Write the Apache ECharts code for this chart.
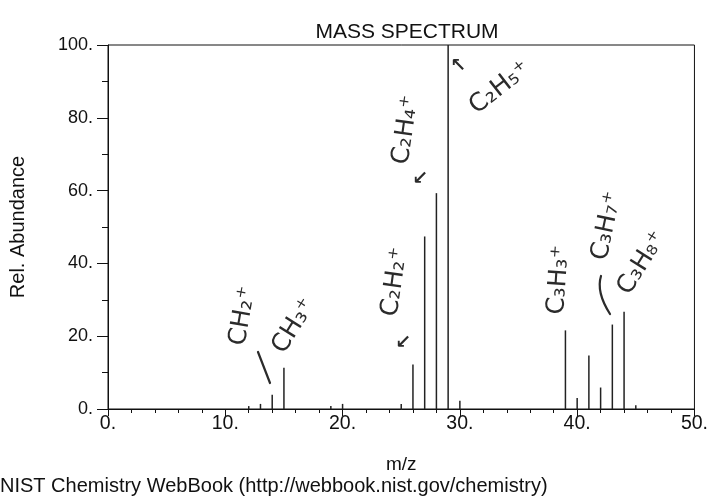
<!DOCTYPE html>
<html>
<head>
<meta charset="utf-8">
<title>Mass spectrum</title>
<script src="https://cdn.jsdelivr.net/npm/echarts@6/dist/echarts.min.js"></script>
<style>
  html, body { margin: 0; padding: 0; background: #fff; }
  #chart { width: 711px; height: 502px; }
</style>
</head>
<body>
<div id="chart"></div>
<script>
// m/z values and relative abundance
var mz = [12, 13, 14, 15, 19, 20, 25, 26, 27, 28, 29, 30, 39, 40, 41, 42, 43, 44, 45];
var abundance = [0.8, 1.4, 3.9, 11.3, 0.8, 1.4, 1.4, 12.2, 47.4, 59.3, 100, 2.3, 21.6, 3.0, 14.7, 5.9, 23.2, 26.7, 1.0];
var xTicks = [0, 10, 20, 30, 40, 50];
var yTicks = [0, 20, 40, 60, 80, 100];

// handwritten notes on the scan
var notes = [
  { text: 'CH₂⁺', x: 243, y: 316, rot: 80 },
  { text: 'CH₃⁺', x: 294, y: 326, rot: 58 },
  { text: 'C₂H₂⁺', x: 395, y: 282, rot: 82 },
  { text: 'C₂H₄⁺', x: 406, y: 130, rot: 82 },
  { text: 'C₂H₅⁺', x: 500, y: 88, rot: 38 },
  { text: 'C₃H₃⁺', x: 559, y: 280, rot: 86 },
  { text: 'C₃H₇⁺', x: 607, y: 226, rot: 78 },
  { text: 'C₃H₈⁺', x: 642, y: 263, rot: 58 }
];
var arrows = [
  { text: '↙', x: 403, y: 343 },
  { text: '↙', x: 420, y: 179 },
  { text: '↖', x: 458, y: 66 }
];

var chart = echarts.init(document.getElementById('chart'), null, { renderer: 'canvas' });

var font = 'Liberation Sans, Arial, sans-serif';
var ink = '#2b2b2b';
var graphics = [];
notes.forEach(function (n) {
  graphics.push({
    type: 'text', x: n.x, y: n.y, rotation: n.rot * Math.PI / 180,
    style: { text: n.text, fill: ink, font: '25px DejaVu Sans', align: 'center', verticalAlign: 'middle' }
  });
});
arrows.forEach(function (a) {
  graphics.push({
    type: 'text', x: a.x, y: a.y,
    style: { text: a.text, fill: ink, font: 'bold 19px DejaVu Sans', align: 'center', verticalAlign: 'middle' }
  });
});
// pen strokes next to CH2+ and C3H7+
graphics.push({
  type: 'line', shape: { x1: 258, y1: 352, x2: 270, y2: 383 },
  style: { stroke: ink, lineWidth: 2.2, lineCap: 'round' }
});
graphics.push({
  type: 'bezierCurve', shape: { x1: 601, y1: 276, cpx1: 596, cpy1: 292, x2: 610, y2: 314 },
  style: { stroke: ink, lineWidth: 2.2, fill: null, lineCap: 'round' }
});
graphics.push({
  type: 'text', left: 0, top: 476,
  style: { text: 'NIST Chemistry WebBook (http://webbook.nist.gov/chemistry)', fill: '#111', font: '20px ' + font }
});

var option = {
  animation: false,
  backgroundColor: '#fff',
  title: {
    text: 'MASS SPECTRUM', left: 402, top: 17, textAlign: 'center',
    textStyle: { fontFamily: font, fontWeight: 'normal', fontSize: 21, color: '#111' }
  },
  grid: {
    left: 106, right: 13, top: 45, bottom: 93,
    show: true, borderColor: '#111', borderWidth: 1, backgroundColor: 'transparent'
  },
  xAxis: {
    type: 'value', min: xTicks[0], max: xTicks[xTicks.length - 1], interval: 10,
    name: 'm/z', nameLocation: 'middle', nameGap: 46,
    nameTextStyle: { fontFamily: font, fontSize: 19, color: '#111' },
    axisLine: { lineStyle: { color: '#111', width: 1 } },
    axisTick: { length: 7, lineStyle: { color: '#111' } },
    minorTick: { show: true, splitNumber: 5, length: 4, lineStyle: { color: '#111' } },
    splitLine: { show: false },
    axisLabel: { fontFamily: font, fontSize: 19.5, color: '#111', margin: 5, formatter: function (v) { return v + '.'; } }
  },
  yAxis: {
    type: 'value', min: yTicks[0], max: yTicks[yTicks.length - 1], interval: 20,
    name: 'Rel. Abundance', nameLocation: 'middle', nameGap: 80, nameRotate: 90,
    nameTextStyle: { fontFamily: font, fontSize: 20, color: '#111' },
    axisLine: { lineStyle: { color: '#111', width: 1 } },
    axisTick: { length: 11, lineStyle: { color: '#111' } },
    minorTick: { show: true, splitNumber: 2, length: 6, lineStyle: { color: '#111' } },
    splitLine: { show: false },
    axisLabel: { fontFamily: font, fontSize: 18, color: '#111', margin: 15, formatter: function (v) { return v + '.'; } }
  },
  series: [{
    type: 'bar',
    barWidth: 1.5,
    itemStyle: { color: '#222' },
    data: mz.map(function (m, i) { return [m, abundance[i]]; })
  }],
  graphic: graphics
};

chart.setOption(option);
</script>
</body>
</html>
